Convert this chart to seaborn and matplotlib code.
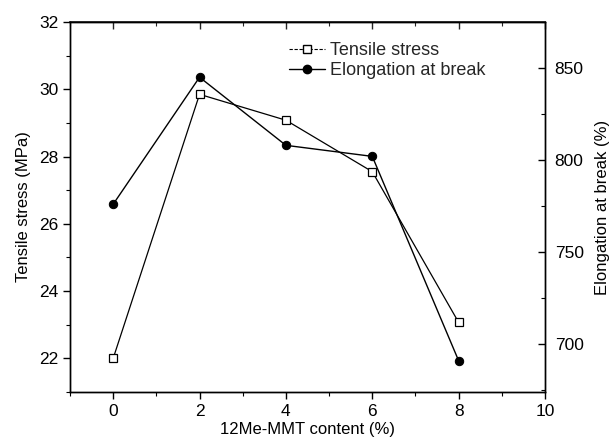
import matplotlib
matplotlib.use("Agg")
import matplotlib.pyplot as plt
import seaborn as sns
import pandas as pd
from matplotlib.ticker import MultipleLocator
from matplotlib.lines import Line2D

content = [0, 2, 4, 6, 8]
tensile_stress = [22.0, 29.85, 29.08, 27.55, 23.07]
elongation = [776, 845, 808, 802, 691]

sns.set_theme(style="ticks")
plt.rcParams['font.family'] = ['Liberation Sans', 'DejaVu Sans']
plt.rcParams['font.size'] = 12

fig = plt.figure(figsize=(6.12, 4.45), dpi=100)
ax = fig.add_axes([70/612, 1-392/445, (545-70)/612, (392-22)/445])
ax2 = ax.twinx()

df = pd.DataFrame({"x": content, "ts": tensile_stress, "el": elongation})

sns.lineplot(data=df, x="x", y="ts", ax=ax, color="black", lw=0.9,
             marker="s", markersize=5.5, markerfacecolor="white",
             markeredgecolor="black", markeredgewidth=0.9)
sns.lineplot(data=df, x="x", y="el", ax=ax2, color="black", lw=1.0,
             marker="o", markersize=6, markerfacecolor="black",
             markeredgecolor="black")

ax.set_xlim(-1, 10)
ax.set_ylim(21, 32)
ax2.set_ylim(674, 875)

ax.xaxis.set_major_locator(MultipleLocator(2))
ax.xaxis.set_minor_locator(MultipleLocator(1))
ax.yaxis.set_major_locator(MultipleLocator(2))
ax.yaxis.set_minor_locator(MultipleLocator(1))
ax2.yaxis.set_major_locator(MultipleLocator(50))
ax2.yaxis.set_minor_locator(MultipleLocator(25))

for a in (ax, ax2):
    for s in a.spines.values():
        s.set_visible(True)
        s.set_linewidth(1.0)
        s.set_color("black")

ax.tick_params(axis="x", which="both", direction="out", top=False,
               bottom=True, colors="black", labelsize=12.5)
ax.tick_params(axis="x", which="major", length=5, width=1)
ax.tick_params(axis="x", which="minor", length=3, width=0.8)
ax.tick_params(axis="y", which="both", direction="out", left=True, right=False,
               colors="black", labelsize=12.5)
ax.tick_params(axis="y", which="major", length=5, width=1)
ax.tick_params(axis="y", which="minor", length=3, width=0.8)
ax2.tick_params(axis="y", which="both", direction="in", right=True, left=False,
                colors="black", labelsize=12.5, pad=7)
ax2.tick_params(axis="y", which="major", length=5, width=1)
ax2.tick_params(axis="y", which="minor", length=3, width=0.8)

secx = ax.secondary_xaxis("top")
secx.xaxis.set_major_locator(MultipleLocator(2))
secx.xaxis.set_minor_locator(MultipleLocator(1))
secx.tick_params(which="both", direction="in", labeltop=False)
secx.tick_params(which="major", length=5, width=1)
secx.tick_params(which="minor", length=3, width=0.8)

ax.set_xlabel("12Me-MMT content (%)", fontsize=12, color="black", labelpad=2)
ax.set_ylabel("Tensile stress (MPa)", fontsize=12, color="black", labelpad=6)
ax2.set_ylabel("Elongation at break (%)", fontsize=12, color="black", labelpad=8)

handles = [
    Line2D([], [], color="black", lw=0.8, ls=(0, (3, 1.5)), marker="s", markersize=5.5,
           markerfacecolor="white", markeredgecolor="black"),
    Line2D([], [], color="black", lw=1.0, marker="o", markersize=6,
           markerfacecolor="black", markeredgecolor="black"),
]
ax2.legend(handles, ["Tensile stress", "Elongation at break"], loc="upper left",
           bbox_to_anchor=(0.445, 0.965), frameon=False, fontsize=13,
           handlelength=2.0, handletextpad=0.3, labelspacing=0.15, borderaxespad=0)

fig.savefig("out.png", dpi=100)
